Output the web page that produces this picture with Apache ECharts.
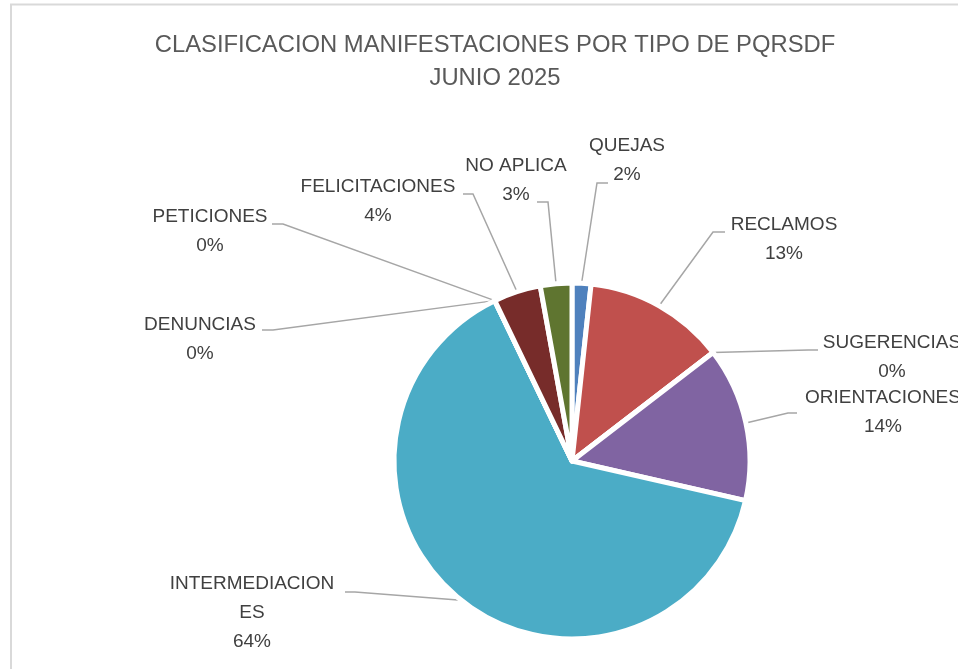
<!DOCTYPE html>
<html>
<head>
<meta charset="utf-8">
<script src="https://cdn.jsdelivr.net/npm/echarts@6/dist/echarts.min.js"></script>
<style>
  html, body { margin: 0; padding: 0; background: #fff; }
  #chart { width: 958px; height: 669px; }
</style>
</head>
<body>
<div id="chart"></div>
<script>
// categorias en el orden del grafico (sentido horario desde arriba)
var categorias = ['QUEJAS', 'RECLAMOS', 'SUGERENCIAS', 'ORIENTACIONES', 'INTERMEDIACIONES',
                  'DENUNCIAS', 'PETICIONES', 'FELICITACIONES', 'NO APLICA'];
// cantidades estimadas a partir del grafico
var cantidades = [6, 45, 0, 49, 225, 0, 0, 15, 10];
var colores = ['#4F81BD', '#C0504D', '#9BBB59', '#8064A2', '#4BACC6',
               '#F79646', '#2C4D75', '#772C2A', '#5F7530'];

// posicion de cada etiqueta (centro x, centro y de la primera linea) y su linea guia
var etiquetas = [
  { x: 627, y: 146, codo: [597, 183], fin: [608, 183] },
  { x: 784, y: 225, codo: [713, 232], fin: [725, 232] },
  { x: 892, y: 343, codo: [808, 350], fin: [818, 350] },
  { x: 883, y: 398, codo: [788, 413], fin: [797, 413] },
  { x: 252, y: 584, codo: [355, 592], fin: [345, 592] },
  { x: 200, y: 325, codo: [273, 330], fin: [262, 330] },
  { x: 210, y: 217, codo: [283, 224], fin: [272, 224] },
  { x: 378, y: 187, codo: [473, 194], fin: [463, 194] },
  { x: 516, y: 166, codo: [548, 202], fin: [537, 202] }
];

var datos = [];
for (var i = 0; i < categorias.length; i++) {
  datos.push({ name: categorias[i], value: cantidades[i], itemStyle: { color: colores[i] } });
}

var myChart = echarts.init(document.getElementById('chart'));

var option = {
  backgroundColor: '#fff',
  animation: false,
  textStyle: { fontFamily: "'Liberation Sans', Arial, sans-serif" },
  title: {
    text: 'CLASIFICACION MANIFESTACIONES POR TIPO DE PQRSDF\nJUNIO 2025',
    left: 490,
    top: 24,
    textAlign: 'center',
    textStyle: {
      fontSize: 23.8,
      lineHeight: 33,
      fontWeight: 'normal',
      color: '#595959'
    }
  },
  graphic: [{
    type: 'rect',
    shape: { x: 11, y: 4.5, width: 1200, height: 1200 },
    style: { fill: 'none', stroke: '#d9d9d9', lineWidth: 2 },
    silent: true
  }],
  series: [{
    type: 'pie',
    center: [572, 461],
    radius: 178,
    startAngle: 90,
    clockwise: true,
    avoidLabelOverlap: false,
    percentPrecision: 0,
    itemStyle: { borderColor: '#fff', borderWidth: 5 },
    label: {
      show: true,
      position: 'outside',
      formatter: function (p) {
        var nombre = p.name === 'INTERMEDIACIONES' ? 'INTERMEDIACION\nES' : p.name;
        return nombre + '\n' + p.percent + '%';
      },
      fontSize: 19,
      lineHeight: 29,
      color: '#404040'
    },
    labelLine: {
      show: true,
      length: 20,
      length2: 10,
      lineStyle: { color: '#a6a6a6', width: 1.5 }
    },
    labelLayout: function (params) {
      var e = etiquetas[params.dataIndex];
      var inicio = params.labelLinePoints ? params.labelLinePoints[0] : e.codo;
      return {
        x: e.x,
        y: e.y - 14.5,
        align: 'center',
        verticalAlign: 'top',
        labelLinePoints: [inicio, e.codo, e.fin]
      };
    },
    emphasis: { disabled: true },
    data: datos
  }]
};

myChart.setOption(option);
</script>
</body>
</html>
